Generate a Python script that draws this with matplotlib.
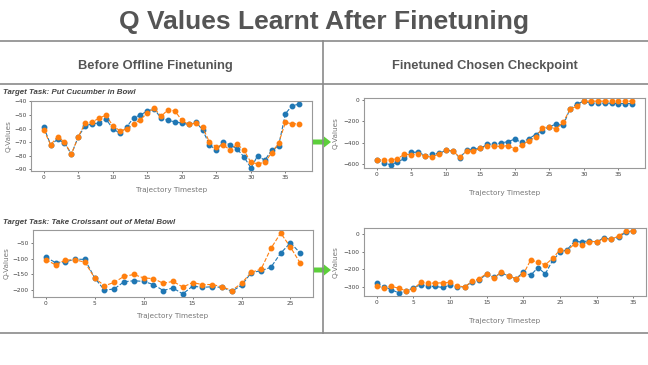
import matplotlib
matplotlib.use("Agg")
import matplotlib.pyplot as plt
from matplotlib.patches import FancyArrow

# ---- data ----
cucumber_before_blue = [-59, -72, -68, -70.5, -79, -66, -58, -56.5, -56, -53,
                        -60, -63.5, -59, -52, -50, -47, -45.5, -52.5, -54, -55,
                        -56, -57, -55, -61, -72, -76, -70, -72, -75, -81,
                        -89, -80, -83.5, -76, -73, -49, -43, -42]
cucumber_before_orange = [-61, -72, -66, -70, -79, -66, -56, -55, -52.5, -50,
                          -58, -61.5, -60.5, -56.5, -53.5, -48.5, -45, -51, -46, -47,
                          -54, -57, -56, -59, -70, -73.5, -72, -76, -71.5, -76,
                          -85, -86, -85, -78, -71, -55.5, -56.5, -56.5]

cucumber_after_blue = [-558, -586, -605, -580, -546, -490, -487, -521, -503, -500,
                       -472, -475, -540, -472, -460, -453, -416, -410, -404, -389,
                       -367, -398, -364, -324, -287, -250, -228, -240, -83, -40,
                       -15, -34, -34, -34, -34, -37, -37, -37]
cucumber_after_orange = [-558, -558, -561, -549, -506, -512, -506, -524, -534, -503,
                         -472, -475, -534, -478, -478, -453, -432, -432, -435, -426,
                         -457, -420, -383, -349, -262, -253, -272, -210, -90, -59,
                         -15, -15, -15, -15, -15, -15, -15, -15]

croissant_before_blue = [-95, -112, -110, -101, -102, -161, -200, -196, -173, -170,
                         -172, -182, -201, -193, -212, -187, -191, -189, -191, -203,
                         -185, -144, -138, -127, -82, -49, -82]
croissant_before_orange = [-103, -119, -104, -103, -111, -161, -186, -175, -156, -150,
                           -161, -163, -178, -172, -190, -176, -182, -182, -189, -201,
                           -178, -143, -133, -67, -18, -63, -114]

croissant_after_blue = [-280, -300, -317, -335, -325, -306, -288, -298, -298, -304,
                        -290, -300, -300, -273, -259, -228, -246, -219, -240, -253,
                        -217, -234, -190, -226, -149, -103, -87, -39, -44, -35,
                        -43, -19, -29, -17, 13, 19]
croissant_after_orange = [-296, -306, -298, -308, -323, -312, -275, -279, -279, -277,
                          -275, -296, -300, -269, -253, -224, -248, -217, -238, -253,
                          -228, -147, -159, -174, -137, -89, -93, -54, -60, -41,
                          -41, -27, -27, -10, 19, 19]

main_title = "Q Values Learnt After Finetuning"
col_titles = ["Before Offline Finetuning", "Finetuned Chosen Checkpoint"]
task_titles = ["Target Task: Put Cucumber in Bowl", "Target Task: Take Croissant out of Metal Bowl"]

W, H = 648, 365
fig = plt.figure(figsize=(W / 100, H / 100), dpi=100)

# background "slide" layer in pixel coordinates
bg = fig.add_axes([0, 0, 1, 1], zorder=0)
bg.set_xlim(0, W)
bg.set_ylim(H, 0)
bg.axis("off")

grid_col = "#8a8a8a"
bg.plot([0, W], [41, 41], color=grid_col, lw=1.2)
bg.plot([0, W], [84, 84], color=grid_col, lw=1.2)
bg.plot([0, W], [333, 333], color=grid_col, lw=1.2)
bg.plot([323, 323], [41, 333], color=grid_col, lw=1.2)

bg.text(W / 2, 22, main_title, ha="center", va="center", fontsize=19,
        fontweight="bold", color="#555555", family="Liberation Sans")
bg.text(155, 66, col_titles[0], ha="center", va="center", fontsize=9.3,
        fontweight="bold", color="#555555", family="Liberation Sans")
bg.text(485, 66, col_titles[1], ha="center", va="center", fontsize=9.3,
        fontweight="bold", color="#555555", family="Liberation Sans")

bg.text(3, 93, task_titles[0], ha="left", va="center", fontsize=5.7,
        fontweight="bold", style="italic", color="#444444", family="Liberation Sans")
bg.text(3, 222, task_titles[1], ha="left", va="center", fontsize=5.7,
        fontweight="bold", style="italic", color="#444444", family="Liberation Sans")

# green arrows between columns
for yy in (142, 270):
    bg.add_patch(FancyArrow(313, yy, 18, 0, width=5, head_width=11, head_length=7,
                            length_includes_head=True, color="#5ccf3a", lw=0))


def px_rect(l, t, r, b):
    return [l / W, 1 - b / H, (r - l) / W, (b - t) / H]


def draw(rect, blue, orange, xticks, yticks):
    ax = fig.add_axes(px_rect(*rect), zorder=2)
    x_b = list(range(len(blue)))
    x_o = list(range(len(orange)))
    ax.plot(x_b, blue, "--o", color="#1f77b4", lw=0.8, ms=3.2)
    ax.plot(x_o, orange, "--o", color="#ff7f0e", lw=0.8, ms=3.2)
    ax.set_xticks(xticks)
    ax.set_yticks(yticks)
    ax.tick_params(labelsize=4.2, colors="#444444", length=1.5, width=0.5, pad=1.5)
    for s in ax.spines.values():
        s.set_color("#999999")
        s.set_linewidth(0.8)
    ax.set_xlabel("Trajectory Timestep", fontsize=5.2, color="#777777", labelpad=5)
    ax.set_ylabel("Q-Values", fontsize=5.2, color="#777777", labelpad=2)
    return ax


ax1 = draw((31, 101, 312, 171), cucumber_before_blue, cucumber_before_orange,
           [0, 5, 10, 15, 20, 25, 30, 35], [-40, -50, -60, -70, -80, -90])
ax2 = draw((364, 98, 645, 168), cucumber_after_blue, cucumber_after_orange,
           [0, 5, 10, 15, 20, 25, 30, 35], [0, -200, -400, -600])
ax2.xaxis.labelpad = 9
ax2.yaxis.labelpad = 4
ax3 = draw((33, 230, 313, 297), croissant_before_blue, croissant_before_orange,
           [0, 5, 10, 15, 20, 25], [-50, -100, -150, -200])
ax4 = draw((364, 228, 646, 296), croissant_after_blue, croissant_after_orange,
           [0, 5, 10, 15, 20, 25, 30, 35], [0, -100, -200, -300])
ax4.xaxis.labelpad = 9
ax4.yaxis.labelpad = 4

fig.savefig("out.png", dpi=100)
